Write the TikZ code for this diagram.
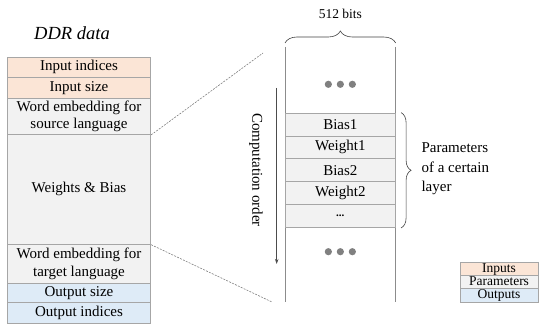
\documentclass[tikz,border=0pt]{standalone}
\usepackage{fontspec}
\setmainfont{Liberation Serif}
\usetikzlibrary{decorations.pathreplacing,arrows.meta}
\definecolor{inputc}{HTML}{FBE5D6}
\definecolor{paramc}{HTML}{F2F2F2}
\definecolor{outputc}{HTML}{DEEBF7}
\definecolor{edgec}{HTML}{A6A6A6}
\definecolor{linec}{HTML}{8C8C8C}
\definecolor{dotc}{HTML}{808080}
\begin{document}
\begin{tikzpicture}[x=1pt,y=-1pt,
  txt/.style={font=\fontsize{15}{17.5}\selectfont},
  cell/.style={txt, draw=edgec, line width=0.8pt, inner sep=0pt, align=center},
  lcell/.style={cell, minimum width=143.4pt},
  rcell/.style={cell, fill=paramc, minimum width=110.7pt, minimum height=22.9pt},
  key/.style={cell, font=\fontsize{13.5}{14}\selectfont, minimum width=78pt, minimum height=13.2pt, text height=9.6pt, text depth=3.2pt},
  dotmark/.style={fill=dotc, draw=none},
  guide/.style={draw=linec, line width=0.8pt},
  zoomline/.style={draw=gray, dashed, dash pattern=on 2pt off 1.2pt, line width=0.6pt}]
\useasboundingbox (0,0) rectangle (539,326);

% memory layout of the DDR data
\node[txt, font=\fontsize{18.5}{20}\selectfont\itshape] (title) at (72,33) {DDR data};
\node[lcell, fill=inputc, minimum height=20.5pt] (ii) at (79,67.25) {Input indices};
\node[lcell, fill=inputc, minimum height=20.5pt] (is) at (79,87.75) {Input size};
\node[lcell, fill=paramc, minimum height=36.5pt] (wes) at (79,116.25) {Word embedding for\\source language};
\node[lcell, fill=paramc, minimum height=109.8pt] (wb) at (79,189.4) {Weights \& Bias};
\node[lcell, fill=paramc, minimum height=39pt] (wet) at (79,263.8) {Word embedding for\\target language};
\node[lcell, fill=outputc, minimum height=19pt] (os) at (79,292.8) {Output size};
\node[lcell, fill=outputc, minimum height=21pt] (oi) at (79,312.8) {Output indices};

% zoomed view of the weights region
\coordinate (ztl) at (285,47);
\coordinate (zbl) at (285,301.7);
\coordinate (ztr) at (395.7,47);
\coordinate (zbr) at (395.7,301.7);
\draw[guide] (ztl) -- (zbl);
\draw[guide] (ztr) -- (zbr);

\node[rcell] (b1) at (340.35,124.5) {Bias1};
\node[rcell] (w1) at (340.35,147.4) {Weight1};
\node[rcell] (b2) at (340.35,170.3) {Bias2};
\node[rcell] (w2) at (340.35,193.2) {Weight2};
\node[rcell] (more) at (340.35,216.1) {\fontsize{11}{12}\selectfont\textbf{...}};

\foreach \dx in {-12,0,12}{
  \fill[dotmark] (340.35+\dx,84.3) circle (3.6pt);
  \fill[dotmark] (340.35+\dx,251.7) circle (3.6pt);
}

% word width brace
\draw[decorate, decoration={brace, amplitude=12pt}, draw=black!75, line width=0.6pt]
  (285,43) -- (395.7,43);
\node[txt, font=\fontsize{13.5}{15}\selectfont] (bits) at (340.35,14) {512 bits};

% layer brace
\draw[decorate, decoration={brace, amplitude=10pt}, draw=black!75, line width=0.6pt]
  (b1.north east) ++(5,0) coordinate (bt) -- (more.south east -| bt);
\node[txt, align=left, anchor=west, font=\fontsize{15}{19.5}\selectfont] (plab) at (418,169) {Parameters\\of a certain\\layer};

% computation order
\coordinate (cstart) at (276.7,88);
\coordinate (cend) at (276.7,264);
\draw[draw=black!70, line width=0.9pt, -{Stealth[length=5pt,width=3.5pt]}] (cstart) -- (cend);
\node[txt, rotate=-90] (corder) at (256,170) {Computation order};

% zoom guides
\coordinate (dt) at (263,53);
\coordinate (db) at (272,302);
\draw[zoomline] (wes.south east) -- (dt);
\draw[zoomline] (wb.south east) -- (db);

% legend
\node[key, fill=inputc] (kin) at (499,269) {Inputs};
\node[key, fill=paramc] (kpar) at (499,282.2) {Parameters};
\node[key, fill=outputc] (kout) at (499,295.4) {Outputs};
\end{tikzpicture}
\end{document}
